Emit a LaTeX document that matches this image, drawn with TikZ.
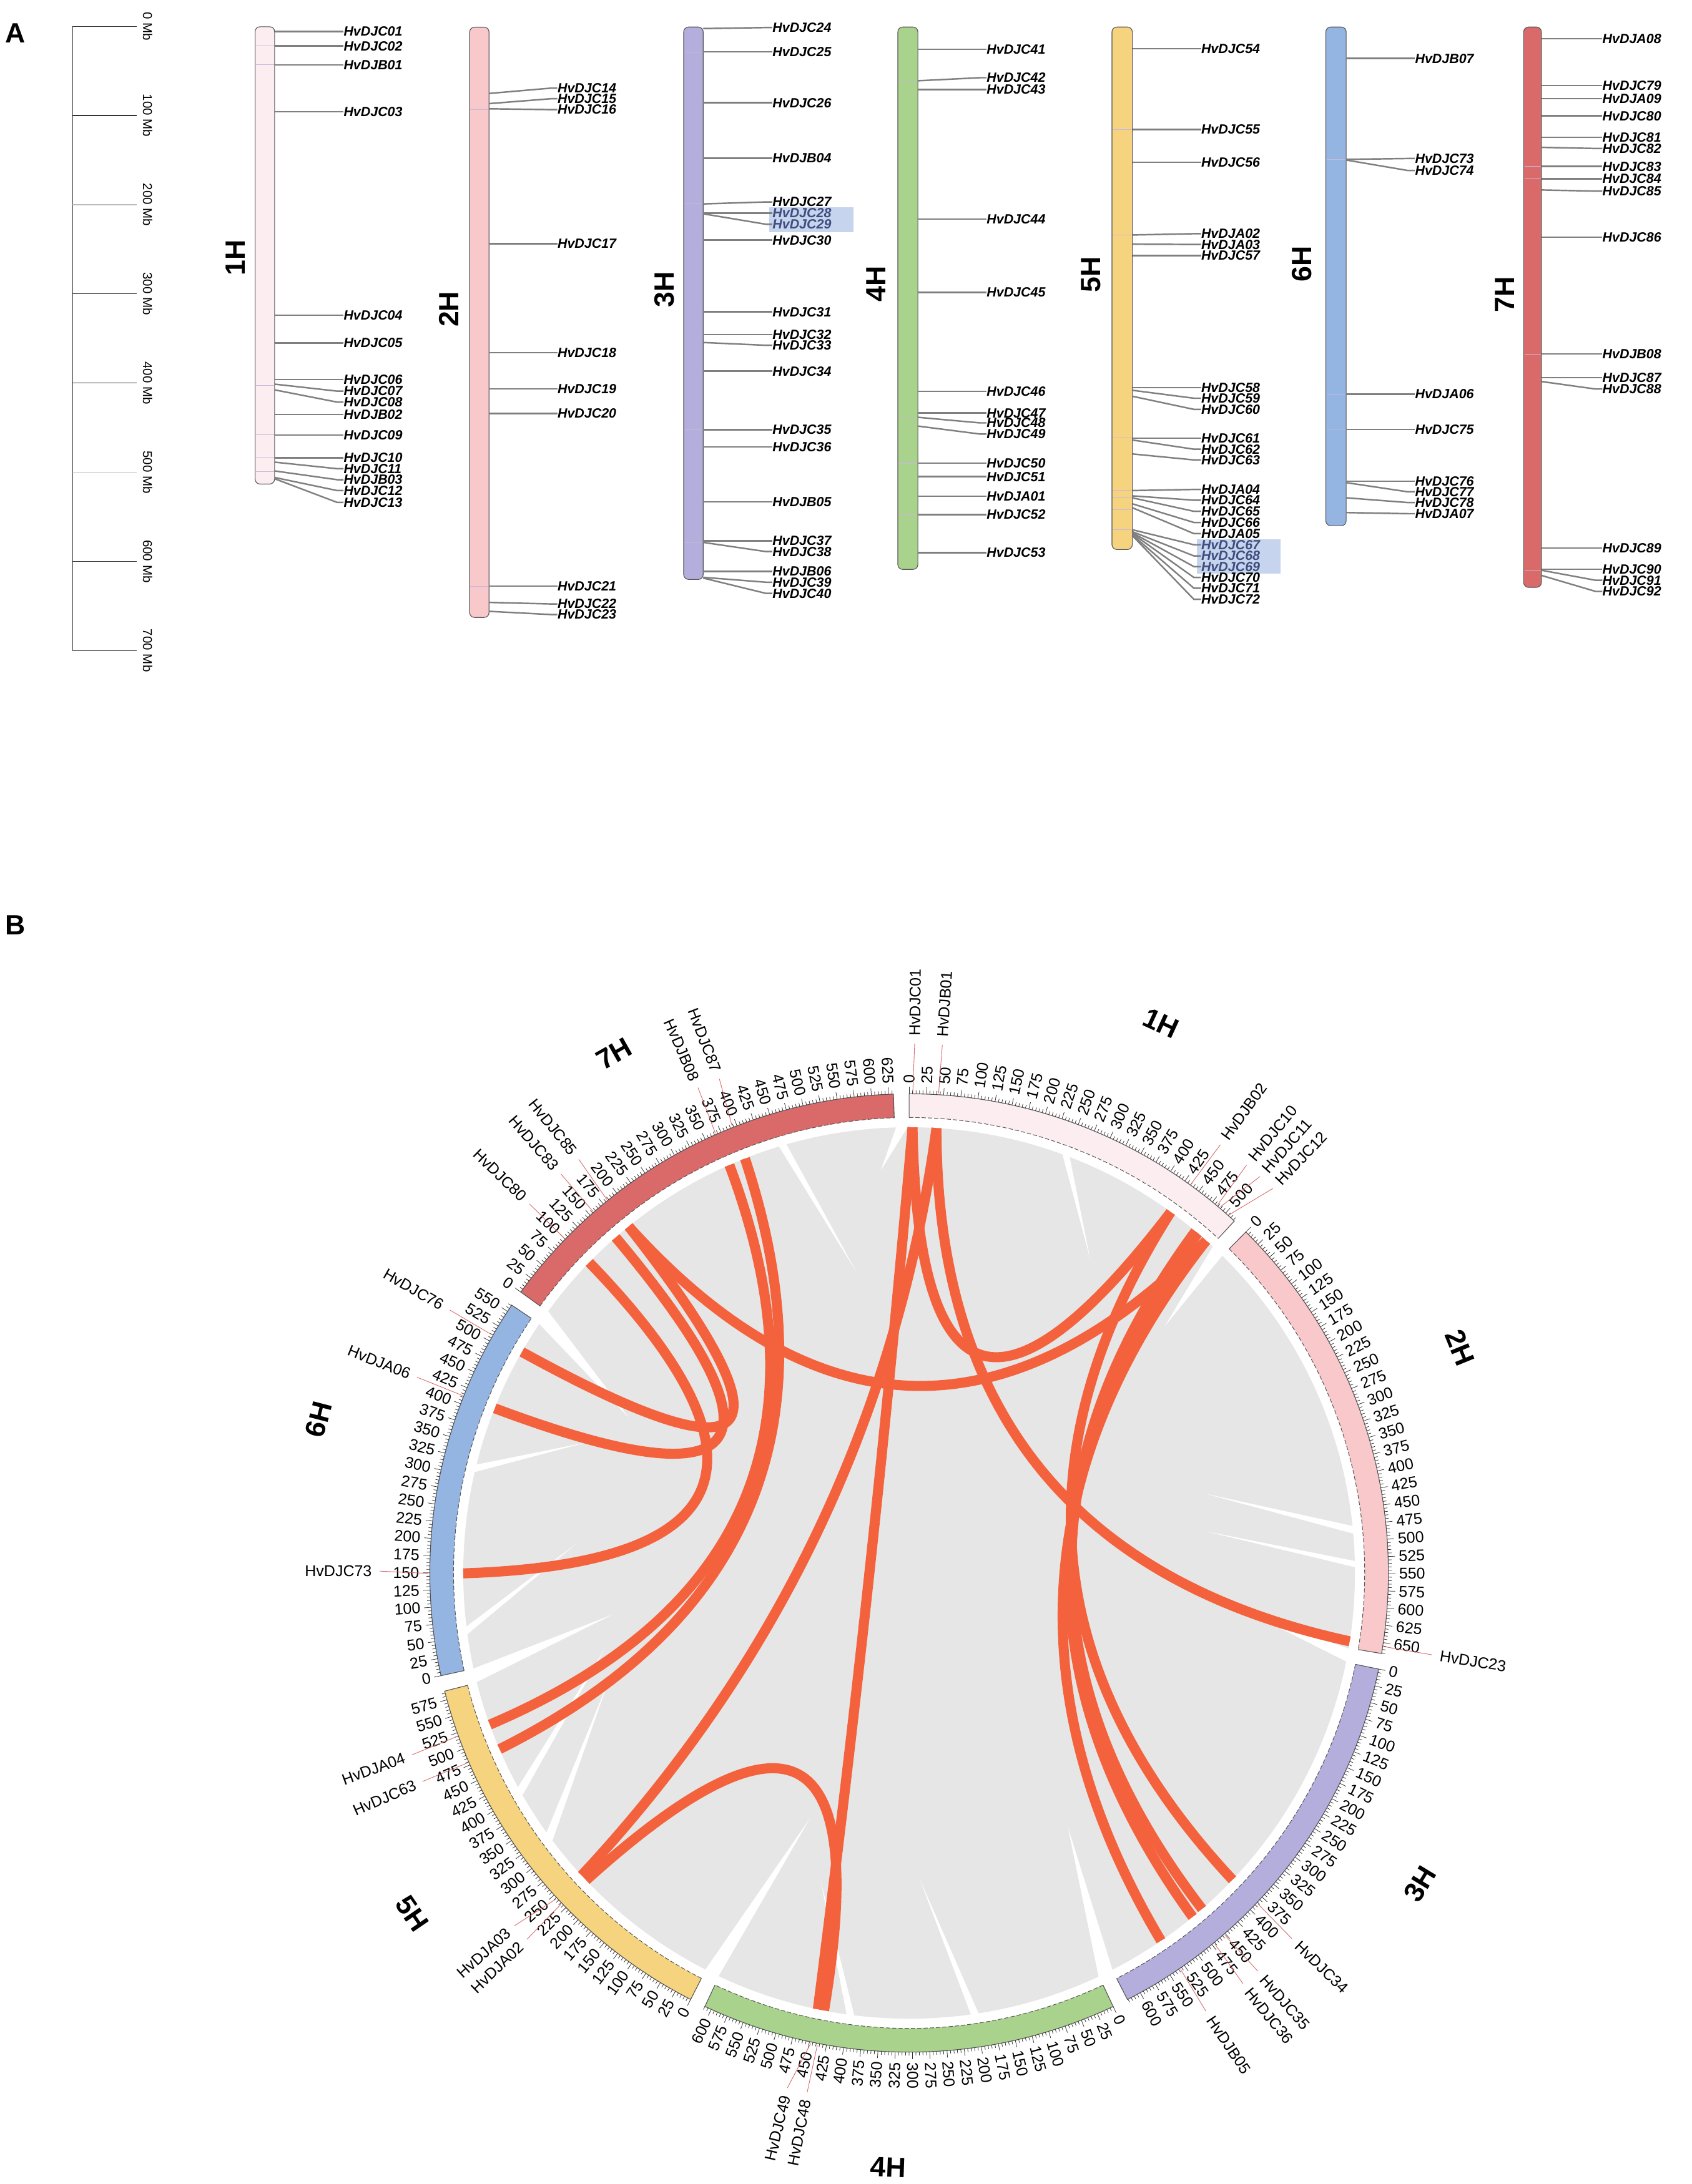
\documentclass[tikz,border=0pt]{standalone}
\usepackage{fontspec}
\setmainfont{Liberation Sans}
\usetikzlibrary{calc}
\definecolor{cA}{HTML}{FCEEF0}
\definecolor{cB}{HTML}{F8C8CB}
\definecolor{cC}{HTML}{B3AEDC}
\definecolor{cD}{HTML}{A9D38C}
\definecolor{cE}{HTML}{F6D37E}
\definecolor{cF}{HTML}{94B4E2}
\definecolor{cG}{HTML}{DA6A6A}
\definecolor{lnkred}{HTML}{F4623D}
\definecolor{lgrey}{HTML}{E6E6E6}
\definecolor{glinec}{HTML}{7F7F7F}
\definecolor{hbox}{HTML}{C7D4EE}
\definecolor{hlab}{HTML}{3E4E80}
\definecolor{sdark}{HTML}{333333}
\definecolor{slight}{HTML}{BBBBBB}
\definecolor{ringedge}{HTML}{555555}
\definecolor{leadc}{HTML}{D86A6A}
\definecolor{bandc}{HTML}{C9B8DA}

\newcommand\kscale{0.08265}

\newcommand\radnode[5]{%
  \pgfmathsetmacro\rA{90-#1}%
  \ifdim #1pt>180pt
    \pgfmathsetmacro\rB{\rA+180}%
    \node[#3, rotate=\rB, anchor=east] (#4) at (\rA:#2) {#5};%
  \else
    \node[#3, rotate=\rA, anchor=west] (#4) at (\rA:#2) {#5};%
  \fi}

\newcommand\chrring[4]{%
  \pgfmathsetmacro\rgE{#1+#2*\kscale}%
  \pgfmathsetmacro\rgS{90-#1}\pgfmathsetmacro\rgF{90-\rgE}%
  \fill[#3] (\rgS:327) arc[start angle=\rgS, end angle=\rgF, radius=327] -- (\rgF:344) arc[start angle=\rgF, end angle=\rgS, radius=344] -- cycle;
  \draw[draw=ringedge, line width=0.5pt] (\rgF:327) -- (\rgF:344) arc[start angle=\rgF, end angle=\rgS, radius=344] -- (\rgS:327);
  \draw[draw=ringedge, line width=0.45pt, dash pattern=on 3pt off 1.5pt] (\rgS:327) arc[start angle=\rgS, end angle=\rgF, radius=327];
  \foreach \m in {0,5,...,#2}{%
    \pgfmathsetmacro\tkA{90-#1-\m*\kscale}%
    \pgfmathsetmacro\tkR{mod(\m,25)==0 ? 349 : 346.5}%
    \draw[tickln] (\tkA:344) -- (\tkA:\tkR);}%
  \foreach \m in {0,25,...,#2}{%
    \pgfmathsetmacro\tkT{#1+\m*\kscale}%
    \radnode{\tkT}{351}{ticklab}{tk#4-\m}{\m}}%
}

\newcommand\defgene[2]{%
  \expandafter\gdef\csname ga#1\endcsname{#2}%
  \coordinate (e-#1) at ({90-#2}:320);}

\newcommand\rlink[3]{%
  \edef\lA{\csname ga#1\endcsname}\edef\lB{\csname ga#2\endcsname}%
  \pgfmathsetmacro\lM{90-(\lA+\lB)/2+(abs(\lA-\lB)>180 ? 180 : 0)}%
  \coordinate (c#1#2) at (\lM:#3);
  \draw[rl] (e-#1) .. controls ($(e-#1)!0.6667!(c#1#2)$) and ($(e-#2)!0.6667!(c#1#2)$) .. (e-#2);}

\newcommand\cgene[3]{%
  \edef\gC{\csname ga#1\endcsname}%
  \pgfmathsetmacro\gA{90-\gC}\pgfmathsetmacro\gB{90-#2}%
  \coordinate (lr-#1) at (\gA:345);
  \coordinate (lq-#1) at (\gB:380);
  \draw[leader] (lr-#1) -- (lq-#1);
  \radnode{#2}{385}{cglab}{cg-#1}{#3}}

\newcommand\wwedge[4]{%
  \pgfmathsetmacro\wA{90-#1}\pgfmathsetmacro\wB{90-#2}\pgfmathsetmacro\wT{90-#3}%
  \fill[white] (\wA:321) arc[start angle=\wA, end angle=\wB, radius=321] -- (\wT:#4) -- cycle;}

\newcommand\genesA[5]{%
  \foreach \ya/\yb/\nm in {#5}{%
    \node[glab, text=#4] (\nm) at (#3,\yb) {\nm};
    \draw[gln] (#1,\ya) -- (#2-3,\yb) -- (\nm.west);}}

\begin{document}
\begin{tikzpicture}[x=1pt,y=-1pt,
  glab/.style={font=\bfseries\itshape\fontsize{9.6}{9.6}\selectfont, anchor=west, inner sep=0pt},
  gln/.style={draw=glinec, line width=1.1pt},
  chromst/.style={draw=ringedge, line width=0.5pt, rounded corners=3.5pt},
  band/.style={draw=bandc, line width=0.4pt},
  chrlabA/.style={font=\bfseries\fontsize{20}{20}\selectfont, rotate=90, inner sep=0pt},
  mblab/.style={font=\fontsize{9.2}{9.5}\selectfont, inner sep=0pt},
  panel/.style={font=\bfseries\fontsize{20}{20}\selectfont, inner sep=0pt},
  tickln/.style={draw=black!80, line width=0.35pt},
  ticklab/.style={font=\fontsize{11.2}{12}\selectfont, inner sep=0.5pt},
  cglab/.style={font=\fontsize{11.2}{12}\selectfont, inner sep=0.5pt},
  leader/.style={draw=leadc, line width=0.4pt},
  rl/.style={draw=lnkred, line width=7.2pt},
  cname/.style={font=\bfseries\fontsize{20}{20}\selectfont, inner sep=0pt}]
\path[use as bounding box, fill=white] (0,0) rectangle (1214,1568);

% ---------------- Panel A ----------------
\node[panel] (lblA) at (11,24) {A};
\node[panel] (lblB) at (11,664) {B};

\draw[draw=glinec, line width=0.6pt] (52,18.9) -- (52,467);
\foreach \i/\c in {0/sdark,1/sdark,2/slight,3/sdark,4/sdark,5/slight,6/sdark,7/sdark}{%
  \pgfmathsetmacro\yy{18.9+64.02*\i}%
  \pgfmathtruncatemacro\mb{100*\i}%
  \draw[draw=\c, line width=0.6pt] (52,\yy) -- (98,\yy);
  \node[mblab, rotate=-90] (mb\i) at (106,\yy) {\mb\ Mb};}

\draw[chromst, fill=cA] (183.1,19.2) rectangle (197.1,347.5);
\draw[chromst, fill=cB] (337.1,19.5) rectangle (351.0,443.3);
\draw[chromst, fill=cC] (490.7,19.4) rectangle (504.7,416.0);
\draw[chromst, fill=cD] (644.4,19.4) rectangle (658.8,408.8);
\draw[chromst, fill=cE] (798.1,19.4) rectangle (812.7,394.5);
\draw[chromst, fill=cF] (951.6,19.4) rectangle (966.2,377.4);
\draw[chromst, fill=cG] (1093.6,19.4) rectangle (1106.3,421.7);
\foreach \y in {33,46.5,276.8,312.3,328.7,338.7}{\draw[band] (183.6,\y) -- (196.6,\y);}
\foreach \y in {78.7,420.8}{\draw[band] (337.6,\y) -- (350.5,\y);}
\foreach \y in {37.2,145.8,308.5,389.4}{\draw[band] (491.2,\y) -- (504.2,\y);}
\foreach \y in {58,300.2,332.5,369.4}{\draw[band] (644.9,\y) -- (658.3,\y);}
\foreach \y in {92.9,168.7,314.5,352.2,357.4,366,380.3}{\draw[band] (798.6,\y) -- (812.2,\y);}
\foreach \y in {114.4,283,308.2}{\draw[band] (952.1,\y) -- (965.7,\y);}
\foreach \y in {119.5,128.4,254.2,409.4}{\draw[band] (1094.1,\y) -- (1105.8,\y);}

\node[chrlabA] (a1H) at (169,185) {1H};
\node[chrlabA] (a2H) at (322,222) {2H};
\node[chrlabA] (a3H) at (477,208) {3H};
\node[chrlabA] (a4H) at (629,204) {4H};
\node[chrlabA] (a5H) at (783,197) {5H};
\node[chrlabA] (a6H) at (934.5,189.5) {6H};
\node[chrlabA] (a7H) at (1080,211.6) {7H};

\fill[hbox] (552.3,148.7) rectangle (612.4,166.7);
\fill[hbox] (859,387.4) rectangle (919,411.7);

\genesA{197.1}{245}{246.5}{black}{22.6/22.6/HvDJC01, 33.0/33.0/HvDJC02, 46.5/46.5/HvDJB01, 80.2/80.2/HvDJC03, 226.4/226.4/HvDJC04, 246.3/246.3/HvDJC05, 272.4/272.4/HvDJC06, 275.8/280.8/HvDJC07, 279.9/288.7/HvDJC08, 297.5/297.5/HvDJB02, 312.3/312.3/HvDJC09, 328.7/328.7/HvDJC10, 331.8/336.5/HvDJC11, 338.1/344.4/HvDJB03, 342.8/352.2/HvDJC12, 343.7/360.7/HvDJC13}
\genesA{351.0}{398.2}{400}{black}{67.1/63.3/HvDJC14, 74.4/70.9/HvDJC15, 78.1/78.7/HvDJC16, 175.0/175.0/HvDJC17, 253.1/253.1/HvDJC18, 279.1/279.1/HvDJC19, 296.9/296.9/HvDJC20, 420.8/420.8/HvDJC21, 432.5/433.6/HvDJC22, 438.9/441.2/HvDJC23}
\genesA{504.7}{552.7}{554.3}{black}{20.5/19.8/HvDJC24, 37.2/37.2/HvDJC25, 73.8/73.8/HvDJC26, 113.5/113.5/HvDJB04, 146.4/145.0/HvDJC27, 172.4/172.4/HvDJC30, 223.9/223.9/HvDJC31, 240.2/240.2/HvDJC32, 245.9/247.9/HvDJC33, 266.5/266.5/HvDJC34, 308.5/308.5/HvDJC35, 320.8/320.8/HvDJC36, 360.2/360.2/HvDJB05, 388.3/388.3/HvDJC37, 389.4/396.0/HvDJC38, 410.3/410.3/HvDJB06, 414.5/418.0/HvDJC39, 415.0/426.0/HvDJC40}
\genesA{504.7}{552.7}{554.3}{hlab}{153.0/153.0/HvDJC28, 153.5/161.0/HvDJC29}
\genesA{658.8}{706.2}{708}{black}{35.5/35.5/HvDJC41, 58.0/55.8/HvDJC42, 64.3/64.3/HvDJC43, 157.2/157.2/HvDJC44, 209.9/209.9/HvDJC45, 281.0/281.0/HvDJC46, 296.5/296.5/HvDJC47, 299.6/303.6/HvDJC48, 305.9/311.6/HvDJC49, 332.5/332.5/HvDJC50, 342.2/342.2/HvDJC51, 356.2/356.2/HvDJA01, 369.4/369.4/HvDJC52, 396.8/396.8/HvDJC53}
\genesA{812.7}{859.9}{862}{black}{34.9/34.9/HvDJC54, 92.9/92.9/HvDJC55, 116.6/116.6/HvDJC56, 168.7/167.8/HvDJA02, 175.3/175.5/HvDJA03, 183.5/183.5/HvDJC57, 278.2/278.2/HvDJC58, 280.2/285.9/HvDJC59, 284.5/293.9/HvDJC60, 314.5/314.5/HvDJC61, 315.9/322.5/HvDJC62, 325.9/330.2/HvDJC63, 352.2/351.4/HvDJA04, 356.0/359.1/HvDJC64, 357.4/367.1/HvDJC65, 361.7/375.1/HvDJC66, 364.5/383.1/HvDJA05, 383.1/414.6/HvDJC70, 384.0/422.3/HvDJC71, 384.5/430.3/HvDJC72}
\genesA{812.7}{859.9}{862}{hlab}{380.3/391.1/HvDJC67, 381.7/399.1/HvDJC68, 382.5/406.8/HvDJC69}
\genesA{966.2}{1013.4}{1015.5}{black}{42.0/42.0/HvDJB07, 114.4/113.8/HvDJC73, 114.9/122.4/HvDJC74, 283.0/283.0/HvDJA06, 308.2/308.2/HvDJC75, 345.4/345.4/HvDJC76, 346.5/353.1/HvDJC77, 357.4/360.8/HvDJC78, 368.0/368.8/HvDJA07}
\genesA{1106.3}{1148.2}{1150}{black}{27.7/27.7/HvDJA08, 61.5/61.5/HvDJC79, 70.9/70.9/HvDJA09, 83.2/83.2/HvDJC80, 98.6/98.6/HvDJC81, 105.8/106.6/HvDJC82, 119.5/119.5/HvDJC83, 128.4/128.4/HvDJC84, 136.4/137.2/HvDJC85, 170.4/170.4/HvDJC86, 254.2/254.2/HvDJB08, 271.0/271.0/HvDJC87, 273.9/279.3/HvDJC88, 393.4/393.4/HvDJC89, 408.8/408.8/HvDJC90, 409.4/416.6/HvDJC91, 413.1/424.6/HvDJC92}

% ---------------- Panel B ----------------
\begin{scope}[shift={(652.5,1129.3)}, yscale=-1]
  \fill[lgrey] (0,0) circle[radius=320];
  \wwedge{42.9}{44.6}{46}{255}
  \wwedge{99.8}{101.5}{97}{250}
  \wwedge{152.9}{154.9}{148}{215}
  \wwedge{205.3}{207.2}{202}{190}
  \wwedge{255.8}{257.6}{262}{215}
  \wwedge{304.0}{306.0}{299}{230}
  \wwedge{358.4}{359.9}{356}{290}
  \wwedge{84}{85}{75}{220}
  \wwedge{88.5}{89.3}{82}{215}
  \wwedge{171}{172}{178}{220}
  \wwedge{187}{188}{196}{230}
  \wwedge{233}{234.3}{250}{230}
  \wwedge{240}{241.2}{256}{225}
  \wwedge{262}{263}{275}{240}
  \wwedge{283}{284}{292}{250}
  \wwedge{343}{344}{350}{220}
  \wwedge{20}{21}{30}{260}

  \defgene{C01}{0.44}  \defgene{B01}{3.52}  \defgene{B02}{35.93}
  \defgene{C10}{39.95} \defgene{C11}{40.36} \defgene{C12}{41.78}
  \defgene{C23}{98.82}
  \defgene{C34}{133.50} \defgene{C35}{138.92} \defgene{C36}{140.51} \defgene{B05}{145.60}
  \defgene{C48}{191.00} \defgene{C49}{191.81}
  \defgene{A02}{226.42} \defgene{A03}{227.27} \defgene{C63}{246.72} \defgene{A04}{250.11}
  \defgene{C73}{269.95} \defgene{A06}{291.68} \defgene{C76}{299.73}
  \defgene{C80}{314.16} \defgene{C83}{318.84} \defgene{C85}{321.02} \defgene{B08}{336.23} \defgene{C87}{338.40}

  \rlink{C01}{C49}{25}
  \rlink{C01}{B02}{25}
  \rlink{B01}{A03}{25}
  \rlink{B01}{C23}{25}
  \rlink{B02}{C34}{25}
  \rlink{C10}{C35}{25}
  \rlink{C11}{C36}{25}
  \rlink{C12}{B05}{25}
  \rlink{C12}{C85}{25}
  \rlink{A02}{C48}{25}
  \rlink{A04}{B08}{25}
  \rlink{C63}{C87}{25}
  \rlink{C73}{C80}{25}
  \rlink{A06}{C83}{25}
  \rlink{C76}{C85}{25}

  \chrring{0}{517}{cA}{1H}
  \chrring{44.63}{666}{cB}{2H}
  \chrring{101.57}{621}{cC}{3H}
  \chrring{154.80}{610}{cD}{4H}
  \chrring{207.12}{588}{cE}{5H}
  \chrring{257.62}{561}{cF}{6H}
  \chrring{305.89}{632}{cG}{7H}

  \cgene{C01}{0.6}{HvDJC01}
  \cgene{B01}{3.6}{HvDJB01}
  \cgene{B02}{36.0}{HvDJB02}
  \cgene{C10}{39.6}{HvDJC10}
  \cgene{C11}{41.5}{HvDJC11}
  \cgene{C12}{43.4}{HvDJC12}
  \cgene{C23}{98.9}{HvDJC23}
  \cgene{C34}{133.7}{HvDJC34}
  \cgene{C35}{138.8}{HvDJC35}
  \cgene{C36}{140.9}{HvDJC36}
  \cgene{B05}{145.9}{HvDJB05}
  \cgene{C48}{191.1}{HvDJC48}
  \cgene{C49}{193.3}{HvDJC49}
  \cgene{A02}{226.2}{HvDJA02}
  \cgene{A03}{228.2}{HvDJA03}
  \cgene{C63}{246.8}{HvDJC63}
  \cgene{A04}{249.9}{HvDJA04}
  \cgene{C73}{270.2}{HvDJC73}
  \cgene{A06}{291.7}{HvDJA06}
  \cgene{C76}{299.8}{HvDJC76}
  \cgene{C80}{314.2}{HvDJC80}
  \cgene{C83}{318.9}{HvDJC83}
  \cgene{C85}{321.4}{HvDJC85}
  \cgene{B08}{336.5}{HvDJB08}
  \cgene{C87}{339.0}{HvDJC87}
\end{scope}

\node[cname, rotate=-24.6] (n1H) at (833.4,734.5) {1H};
\node[cname, rotate=-67.8] (n2H) at (1048,967.6) {2H};
\node[cname, rotate=58.7] (n3H) at (1019.3,1352.6) {3H};
\node[cname, rotate=-2] (n4H) at (637.4,1556) {4H};
\node[cname, rotate=-55.6] (n5H) at (296,1373.8) {5H};
\node[cname, rotate=75.5] (n6H) at (228.6,1019.2) {6H};
\node[cname, rotate=29.6] (n7H) at (440.7,756.5) {7H};
\end{tikzpicture}
\end{document}
